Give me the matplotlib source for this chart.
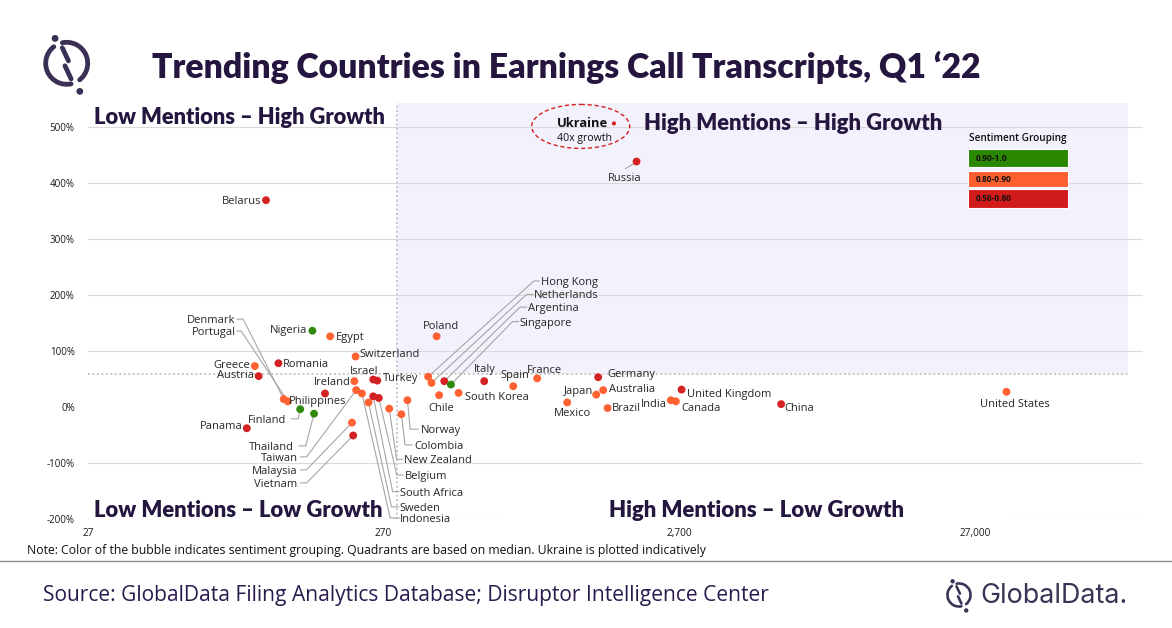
import matplotlib
matplotlib.use("Agg")
import matplotlib.pyplot as plt
import numpy as np
from matplotlib.patches import Rectangle, Ellipse, Arc, Circle
from matplotlib.lines import Line2D
from matplotlib.transforms import IdentityTransform, offset_copy
from matplotlib.ticker import FixedLocator, NullLocator

# ---------------- data ----------------
countries = ["Belarus", "Russia", "Nigeria", "Egypt", "Switzerland", "Poland",
             "Greece", "Romania", "Austria", "Denmark", "Portugal", "Ireland",
             "Israel", "Turkey", "Philippines", "Finland", "Thailand", "Panama",
             "Taiwan", "Indonesia", "Sweden", "South Africa", "Belgium",
             "New Zealand", "Colombia", "Norway", "Malaysia", "Vietnam",
             "Hong Kong", "Netherlands", "Argentina", "Singapore", "Chile",
             "South Korea", "Italy", "Spain", "France", "Mexico", "Germany",
             "Japan", "Australia", "Brazil", "India", "Canada",
             "United Kingdom", "China", "United States"]
mentions = [108, 1936, 155, 178, 217, 408,
            99, 119, 102, 124, 128, 215,
            249, 257, 171, 141, 157, 93,
            218, 228, 240, 249, 260,
            282, 310, 325, 211, 213,
            382, 392, 433, 456, 416,
            484, 591, 741, 893, 1128, 1436,
            1414, 1493, 1545, 2529, 2630,
            2749, 5970, 34530]
growth = [369, 438, 136, 126, 90, 126,
          73, 78, 55, 14, 10, 46,
          49, 47, 24, -4, -12, -38,
          30, 24, 8, 19, 16,
          -3, -13, 12, -28, -51,
          54, 43, 46, 40, 21,
          25, 46, 37, 51, 8, 53,
          22, 30, -2, 12, 10,
          31, 5, 27]
sentiment = ["0.50-0.80", "0.50-0.80", "0.90-1.0", "0.80-0.90", "0.80-0.90", "0.80-0.90",
             "0.80-0.90", "0.50-0.80", "0.50-0.80", "0.80-0.90", "0.80-0.90", "0.80-0.90",
             "0.50-0.80", "0.50-0.80", "0.50-0.80", "0.90-1.0", "0.90-1.0", "0.50-0.80",
             "0.80-0.90", "0.80-0.90", "0.80-0.90", "0.50-0.80", "0.50-0.80",
             "0.80-0.90", "0.80-0.90", "0.80-0.90", "0.80-0.90", "0.50-0.80",
             "0.80-0.90", "0.80-0.90", "0.50-0.80", "0.90-1.0", "0.80-0.90",
             "0.80-0.90", "0.50-0.80", "0.80-0.90", "0.80-0.90", "0.80-0.90", "0.50-0.80",
             "0.80-0.90", "0.80-0.90", "0.80-0.90", "0.80-0.90", "0.80-0.90",
             "0.50-0.80", "0.50-0.80", "0.80-0.90"]
assert len(countries) == len(mentions) == len(growth) == len(sentiment)

groups = ["0.90-1.0", "0.80-0.90", "0.50-0.80"]
median_mentions = 299
median_growth = 59

ukraine_mentions = 1623      # plotted indicatively
ukraine_growth_plot = 506
ukraine_note = "40x growth"

xticks = [27, 270, 2700, 27000]
xtick_labels = ["27", "270", "2,700", "27,000"]
yticks = [-200, -100, 0, 100, 200, 300, 400, 500]
ytick_labels = [f"{v}%" for v in yticks]

title = "Trending Countries in Earnings Call Transcripts, Q1 \u201822"
note = ("Note: Color of the bubble indicates sentiment grouping. Quadrants are based on median. "
        "Ukraine is plotted indicatively")
source = "Source: GlobalData Filing Analytics Database; Disruptor Intelligence Center"

# ---------------- styles / layout ----------------
W, H = 1172, 628
group_colors = {"0.90-1.0": "#2E8B0E", "0.80-0.90": "#FF6130", "0.50-0.80": "#D42222"}
legend_colors = {"0.90-1.0": "#2A8700", "0.80-0.90": "#FF5F2E", "0.50-0.80": "#D11B1B"}
navy = "#24163F"
src_color = "#2A1B4E"
purple_bg = "#F3F1FB"
label_font = "Open Sans"
head_font = "Lato"

# label placement: offsets in pixels from the bubble (x right, y down), alignment
label_pos = {
    "Belarus": (-5, 0, "right"), "Russia": (-12, 15, "center"),
    "Nigeria": (-5, -2, "right"), "Egypt": (6, 0, "left"),
    "Switzerland": (4, -4, "left"), "Poland": (4.6, -11.3, "center"),
    "Greece": (-5, -2.5, "right"), "Romania": (4, 0, "left"),
    "Austria": (-5, -2, "right"), "Denmark": (-48.3, -80, "right"),
    "Portugal": (-52.3, -70.3, "right"), "Ireland": (-4, 0, "right"),
    "Israel": (-9.6, -9.3, "center"), "Turkey": (6, -3.6, "left"),
    "Philippines": (-7.8, 6.7, "center"), "Finland": (-14.3, 9.7, "right"),
    "Thailand": (-20, 32.3, "right"), "Panama": (-4, -3, "right"),
    "Taiwan": (-58, 66.7, "right"), "Indonesia": (38.3, 124.5, "left"),
    "Sweden": (31.3, 104.4, "left"), "South Africa": (26.7, 95.4, "left"),
    "Belgium": (25.6, 77, "left"), "New Zealand": (15, 50.7, "left"),
    "Colombia": (13, 30.7, "left"), "Norway": (13.4, 29, "left"),
    "Malaysia": (-54, 47.3, "right"), "Vietnam": (-55.6, 47.4, "right"),
    "Hong Kong": (112.4, -95.7, "left"), "Netherlands": (102.6, -88.4, "left"),
    "Argentina": (84, -74, "left"), "Singapore": (69, -63, "left"),
    "Chile": (2.4, 11.4, "center"), "South Korea": (6.6, 2.6, "left"),
    "Italy": (0.4, -13, "center"), "Spain": (1.7, -12, "center"),
    "France": (6.9, -9, "center"), "Mexico": (5, 9.7, "center"),
    "Germany": (9.4, -4, "left"), "Japan": (-3, -5, "right"),
    "Australia": (6, -1.7, "left"), "Brazil": (4, -1.3, "left"),
    "India": (-4.3, 2.7, "right"), "Canada": (5, 6, "left"),
    "United Kingdom": (5.6, 3, "left"), "China": (3.7, 2.7, "left"),
    "United States": (8.3, 11.6, "center"),
}
# leader lines: pixel offsets (from the bubble) of the elbow and of the end near the label
leaders = {
    "Denmark": [(-40.6, -80), (-46.6, -80)],
    "Portugal": [(-46.6, -70.3), (-50.6, -70.3)],
    "Finland": [(-2, 9.7), (-8.6, 9.7)],
    "Thailand": [(-8.3, 32.3), (-15, 32.3)],
    "Taiwan": [(-49.6, 66.7), (-55.6, 66.7)],
    "Malaysia": [(-45.6, 47.3), (-51.6, 47.3)],
    "Vietnam": [(-46.6, 47.4), (-52.6, 47.4)],
    "Norway": [(2.7, 29), (10.7, 29)],
    "Colombia": [(3.7, 30.7), (10.7, 30.7)],
    "New Zealand": [(7.4, 50.7), (13.7, 50.7)],
    "Belgium": [(18, 77), (24.3, 77)],
    "South Africa": [(19.4, 95.4), (25.7, 95.4)],
    "Sweden": [(23, 104.4), (30.3, 104.4)],
    "Indonesia": [(28.3, 124.5), (37.3, 124.5)],
    "Hong Kong": [(105.7, -95.7), (111, -95.7)],
    "Netherlands": [(95, -88.4), (101.6, -88.4)],
    "Argentina": [(75.7, -74), (82.4, -74)],
    "Singapore": [(61.7, -63), (67.7, -63)],
    "Russia": [(-4, 3), (-11, 7)],
}

# ---------------- figure ----------------
fig = plt.figure(figsize=(W / 100, H / 100), dpi=100)
fig.patch.set_facecolor("white")
renderer = fig.canvas.get_renderer()

ax_l, ax_r, ax_t, ax_b = 88, 1143, 102.7, 519
ax = fig.add_axes([ax_l / W, 1 - ax_b / H, (ax_r - ax_l) / W, (ax_b - ax_t) / H])
ax.set_xscale("log")
ax.set_xlim(27, 1e5)
ax.set_ylim(-200, 543)
ax.set_facecolor("none")
for s in ax.spines.values():
    s.set_visible(False)

purple_right = 88800
ax.add_patch(Rectangle((median_mentions, median_growth), purple_right - median_mentions,
                       543 - median_growth, facecolor=purple_bg, edgecolor="none", zorder=0))
for v in [500, 400, 300, 200, 100, -100]:
    ax.axhline(v, color="#DADADA", lw=0.8, zorder=0.5)
ax.axhline(-200, xmin=0, xmax=0.396, color="#DADADA", lw=0.8, zorder=0.5)
ax.axhline(-200, xmin=0.87, xmax=1, color="#DADADA", lw=0.8, zorder=0.5)

dot_style = dict(color="#C8C8C8", lw=1.4, ls=(0, (1, 1.3)), zorder=1)
ax.axvline(median_mentions, **dot_style)
ax.plot([27, purple_right], [median_growth, median_growth], **dot_style)

cols = [group_colors[g] for g in sentiment]
ax.scatter(mentions, growth, s=32, c=cols, edgecolors="none", zorder=3)
ax.scatter([ukraine_mentions], [ukraine_growth_plot], s=9, c=group_colors["0.50-0.80"],
           edgecolors="none", zorder=3)

ax.xaxis.set_major_locator(FixedLocator(xticks))
ax.xaxis.set_minor_locator(NullLocator())
ax.set_xticklabels(xtick_labels)
ax.set_yticks(yticks)
ax.set_yticklabels(ytick_labels)
ax.tick_params(axis="x", length=0, pad=6.5, labelsize=7.3, labelcolor="#1A1A1A")
ax.tick_params(axis="y", length=0, pad=9.5, labelsize=7.0, labelcolor="#1A1A1A")
for lab in ax.get_xticklabels() + ax.get_yticklabels():
    lab.set_fontfamily(label_font)


def to_img(x, y):
    X, Y = ax.transData.transform((x, y))
    return X, H - Y


# data labels
for name, x, y in zip(countries, mentions, growth):
    dx, dy, ha = label_pos[name]
    tr = offset_copy(ax.transData, fig=fig, x=dx * 0.72, y=-(dy + 4) * 0.72, units="points")
    ax.text(x, y, name, transform=tr, ha=ha, va="baseline", fontsize=8.0,
            family=label_font, color="#262626", zorder=4)
    if name in leaders:
        px, py = to_img(x, y)
        xs = [px] + [px + k[0] for k in leaders[name]]
        ys = [py] + [py + k[1] for k in leaders[name]]
        ax.add_line(Line2D(xs, [H - v for v in ys], transform=IdentityTransform(),
                           color="#A6A6A6", lw=0.8, clip_on=False, zorder=2))

# ---------------- overlay (pixel coordinates, y down) ----------------
ov = fig.add_axes([0, 0, 1, 1])
ov.set_xlim(0, W)
ov.set_ylim(H, 0)
ov.axis("off")


def fit(t, target):
    for _ in range(3):
        w = t.get_window_extent(renderer).width
        t.set_fontsize(t.get_fontsize() * target / w)
    return t


fit(ov.text(152, 78, title, ha="left", va="baseline", fontsize=24, weight="heavy",
            family=head_font, color=navy), 830)

quads = [("Low Mentions \u2013 High Growth", 93.5, 124, 293),
         ("High Mentions \u2013 High Growth", 643.5, 130, 298),
         ("Low Mentions \u2013 Low Growth", 94, 517, 288),
         ("High Mentions \u2013 Low Growth", 609, 517, 294)]
for txt, x0, yb, wd in quads:
    fit(ov.text(x0, yb, txt, ha="left", va="baseline", fontsize=16, weight="heavy",
                family=head_font, color=navy, zorder=6), wd)

fit(ov.text(27, 554, note, ha="left", va="baseline", fontsize=8, family=label_font,
            color="#111111"), 674)
ov.plot([0, W], [561, 561], color="#8C8C8C", lw=1.0)
fit(ov.text(43, 601, source, ha="left", va="baseline", fontsize=15, family=label_font,
            color=src_color), 726)

# legend
fit(ov.text(969, 140.5, "Sentiment Grouping", ha="left", va="baseline", fontsize=7,
            weight="semibold", family=label_font, color="#111111"), 97)
box_tops = [149.3, 170.7, 189.0]
box_h = [17.4, 16.6, 18.7]
for g, top, hgt in zip(groups, box_tops, box_h):
    ov.add_patch(Rectangle((968.3, top), 100, hgt, facecolor=legend_colors[g],
                           edgecolor="white", lw=0.8))
    fit(ov.text(976, top + hgt / 2 + 2.6, g, ha="left", va="baseline", fontsize=6,
                weight="bold", family=label_font, color="#111111"), 32 if len(g) == 8 else 36)

# Ukraine callout
ux, uy = to_img(ukraine_mentions, ukraine_growth_plot)
ov.text(ux - 5.7, uy + 4, "Ukraine", ha="right", va="baseline", fontsize=9.3,
        weight="bold", family=label_font, color="#111111")
ov.text(ux - 29, uy + 18, ukraine_note, ha="center", va="baseline", fontsize=7.6,
        family=label_font, color="#111111")
ov.add_patch(Ellipse((ux - 33.2, uy + 3), 98, 44, fill=False, edgecolor="#D42222",
                     lw=1.0, ls=(0, (3, 2))))


# logos
def draw_logo(cx, cy, s, color):
    r = 21 * s
    lw = 4.8 * s * 0.72
    ov.add_patch(Arc((cx, cy), 2 * r, 2 * r, theta1=-282, theta2=-128, lw=lw, color=color,
                     capstyle="round"))
    ov.add_patch(Arc((cx, cy), 2 * r, 2 * r, theta1=-102, theta2=52, lw=lw, color=color,
                     capstyle="round"))
    a = np.deg2rad(115)
    u = np.array([np.cos(a), -np.sin(a)])
    p = np.array([u[1], -u[0]])
    for sign in (1, -1):
        off = -sign * 2.6 * s * p
        a0 = np.array([cx, cy]) + sign * u * 16 * s + off
        a1 = np.array([cx, cy]) + sign * u * 1.5 * s + off
        ov.plot([a0[0], a1[0]], [a0[1], a1[1]], color=color, lw=lw, solid_capstyle="round")
    for sign, d in ((1, 27.5), (-1, 31)):
        c = np.array([cx, cy]) + sign * u * d * s
        ov.add_patch(Circle(c, 2.7 * s, color=color))


draw_logo(66.7, 63.3, 1.0, "#3A2F55")
draw_logo(959, 595, 0.55, "#3B3355")
fit(ov.text(980, 603, "GlobalData.", ha="left", va="baseline", fontsize=18,
            family="Inter", color="#3B3355"), 147)

fig.savefig("out.png", dpi=100)
